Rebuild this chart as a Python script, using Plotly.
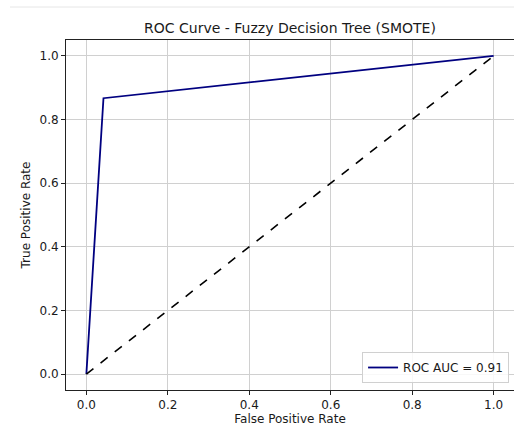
import plotly.graph_objects as go

fpr = [0.0, 0.042, 1.0]
tpr = [0.0, 0.867, 1.0]
diag_x = [0, 1]
diag_y = [0, 1]
roc_auc = 0.91
ticks = [0.0, 0.2, 0.4, 0.6, 0.8, 1.0]
tick_text = ["0.0", "0.2", "0.4", "0.6", "0.8", "1.0"]

FONT = "DejaVu Sans"

fig = go.Figure()
fig.add_trace(go.Scatter(x=fpr, y=tpr, mode="lines", line=dict(color="#000080", width=1.8),
                         name=f"ROC AUC = {roc_auc:.2f}"))
fig.add_trace(go.Scatter(x=diag_x, y=diag_y, mode="lines", line=dict(color="black", width=1.6, dash="dash"),
                         showlegend=False))

axis_common = dict(range=[-0.05, 1.05], tickvals=ticks, ticktext=tick_text, showgrid=True,
                   gridcolor="#d0d0d0", gridwidth=1, zeroline=False, showline=True,
                   linecolor="#222", linewidth=1, mirror=True, ticks="outside", ticklen=4,
                   tickcolor="#222", tickfont=dict(family=FONT, size=12, color="#1a1a1a"))

fig.update_layout(
    width=514, height=432,
    margin=dict(l=66, r=0, t=40, b=42),
    paper_bgcolor="white", plot_bgcolor="white",
    title=dict(text="ROC Curve - Fuzzy Decision Tree (SMOTE)", x=(66 + 514) / 2 / 514, xanchor="center",
               y=1 - 28 / 432, yanchor="middle", font=dict(family=FONT, size=14, color="#1a1a1a")),
    xaxis=dict(**axis_common, title=dict(text="False Positive Rate", font=dict(family=FONT, size=12, color="#1a1a1a"), standoff=3)),
    yaxis=dict(**axis_common, title=dict(text="True Positive Rate", font=dict(family=FONT, size=12, color="#1a1a1a"), standoff=6)),
    legend=dict(x=0.989, y=0.02, xanchor="right", yanchor="bottom", bgcolor="rgba(255,255,255,0.85)",
                bordercolor="#d0d0d0", borderwidth=1, font=dict(family=FONT, size=12, color="#1a1a1a")),
    showlegend=True,
)
fig.add_shape(type="line", xref="paper", yref="paper", x0=-56 / 448, x1=1.0, y0=1 + 33 / 350, y1=1 + 33 / 350,
              line=dict(color="#e6e6e6", width=1))

fig.write_html("out.html")
